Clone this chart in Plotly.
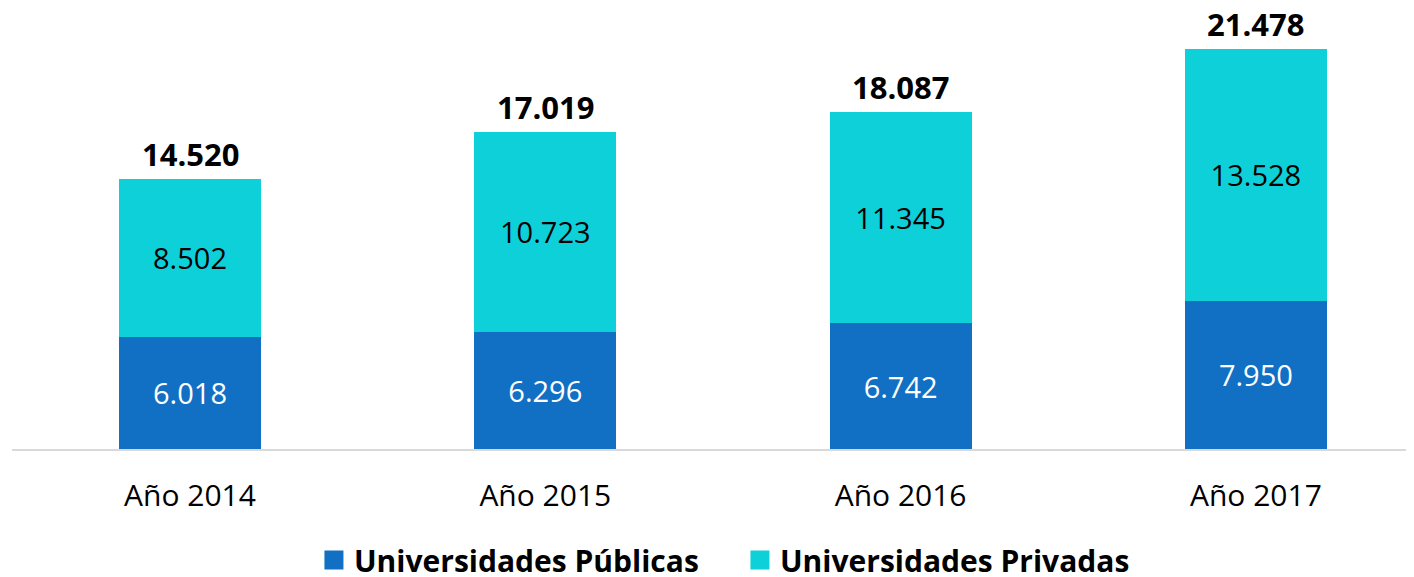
import plotly.graph_objects as go

categories = ["Año 2014", "Año 2015", "Año 2016", "Año 2017"]
publicas = [6018, 6296, 6742, 7950]
privadas = [8502, 10723, 11345, 13528]
totales = [a + b for a, b in zip(publicas, privadas)]

BLUE = "#1170C4"
CYAN = "#0ED0D9"
FONT = "Open Sans, Noto Sans, sans-serif"

fig = go.Figure()
fig.add_trace(go.Bar(
    x=categories, y=publicas, name="Universidades Públicas",
    marker=dict(color=BLUE, line_width=0), width=0.4,
    texttemplate="%{y:,}", textposition="inside", insidetextanchor="middle",
    textfont=dict(color="white", size=29, family=FONT),
    showlegend=False, hoverinfo="skip",
))
fig.add_trace(go.Bar(
    x=categories, y=privadas, name="Universidades Privadas",
    marker=dict(color=CYAN, line_width=0), width=0.4,
    texttemplate="%{y:,}", textposition="inside", insidetextanchor="middle",
    textfont=dict(color="black", size=29, family=FONT),
    showlegend=False, hoverinfo="skip",
))
# totals above each stack
for cat, tot in zip(categories, totales):
    fig.add_annotation(
        x=cat, y=tot, text=f"{tot:,}".replace(",", "."), showarrow=False,
        yanchor="bottom", yshift=2,
        font=dict(color="black", size=31, family=FONT, weight="bold"),
    )
# legend entries with larger square markers
for name, col in [("Universidades Públicas", BLUE), ("Universidades Privadas", CYAN)]:
    fig.add_trace(go.Scatter(
        x=[None], y=[None], mode="markers", name=name,
        marker=dict(symbol="square", size=16, color=col, line=dict(color=col, width=3)),
    ))

fig.update_layout(
    width=1406, height=569,
    barmode="stack",
    separators=",.",
    paper_bgcolor="white", plot_bgcolor="white",
    margin=dict(l=4, r=0, t=12, b=128),
    font=dict(family=FONT, size=29, color="black"),
    legend=dict(
        orientation="h", xref="container", yref="container",
        x=0.2176, xanchor="left", y=0.03, yanchor="middle",
        font=dict(size=30, family=FONT, weight="bold"),
        traceorder="normal", itemwidth=30,
        entrywidth=381, entrywidthmode="pixels",
    ),
)
fig.update_xaxes(
    range=[-0.501, 3.445], showline=True, linecolor="#D9D9D9", linewidth=2,
    ticks="", tickfont=dict(size=30, family=FONT), showgrid=False,
    ticklabelstandoff=19,
)
fig.update_yaxes(range=[0, 23035], visible=False, showgrid=False)

fig.write_html("out.html")
